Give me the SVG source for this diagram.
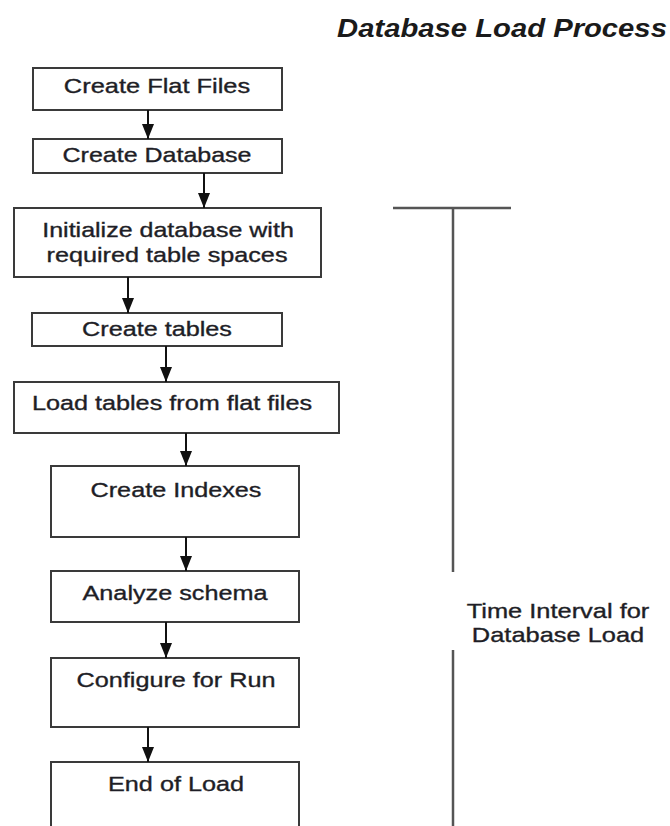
<svg xmlns="http://www.w3.org/2000/svg" width="670" height="826" viewBox="0 0 670 826">
  <style>
    .box { fill: #ffffff; stroke: #3a3a3a; stroke-width: 2; }
    .lbl { font-family: "Liberation Sans", Arial, sans-serif; font-size: 20.5px; fill: #1e1e26; stroke: #1e1e26; stroke-width: 0.35; text-anchor: middle; }
    .title { font-family: "Liberation Sans", Arial, sans-serif; font-size: 25px; font-weight: bold; font-style: italic; fill: #1a1a1a; text-anchor: middle; }
    .flow { stroke: #111111; stroke-width: 2; fill: none; marker-end: url(#arrow); }
    .span { stroke: #555555; stroke-width: 2.5; fill: none; }
  </style>
  <defs>
    <marker id="arrow" markerWidth="15" markerHeight="12" refX="15" refY="6" orient="auto" markerUnits="userSpaceOnUse" viewBox="0 0 15 12">
      <path d="M0,0 L15,6 L0,12 Z" fill="#111111"/>
    </marker>
  </defs>

  <rect width="670" height="826" fill="#ffffff"/>

  <!-- wide lettering: glyphs stretched horizontally -->
  <text class="title" transform="translate(502 37) scale(1.17 1)">Database Load Process</text>

  <!-- process steps -->
  <g id="create-flat-files">
    <rect class="box" x="33" y="68" width="249" height="42"/>
    <text class="lbl" transform="translate(157 93) scale(1.24 1)">Create Flat Files</text>
  </g>
  <g id="create-database">
    <rect class="box" x="33" y="139" width="249" height="34"/>
    <text class="lbl" transform="translate(157 162) scale(1.22 1)">Create Database</text>
  </g>
  <g id="initialize-database">
    <rect class="box" x="14" y="208" width="307" height="69"/>
    <text class="lbl" transform="translate(168 237) scale(1.22 1)">Initialize database with</text>
    <text class="lbl" transform="translate(167 262) scale(1.23 1)">required table spaces</text>
  </g>
  <g id="create-tables">
    <rect class="box" x="32" y="313" width="250" height="33"/>
    <text class="lbl" transform="translate(157 336) scale(1.23 1)">Create tables</text>
  </g>
  <g id="load-tables">
    <rect class="box" x="14" y="382" width="325" height="51"/>
    <text class="lbl" transform="translate(172 410) scale(1.23 1)">Load tables from flat files</text>
  </g>
  <g id="create-indexes">
    <rect class="box" x="51" y="466" width="248" height="71"/>
    <text class="lbl" transform="translate(176 497) scale(1.23 1)">Create Indexes</text>
  </g>
  <g id="analyze-schema">
    <rect class="box" x="51" y="571" width="248" height="51"/>
    <text class="lbl" transform="translate(175 600) scale(1.23 1)">Analyze schema</text>
  </g>
  <g id="configure-for-run">
    <rect class="box" x="51" y="658" width="248" height="69"/>
    <text class="lbl" transform="translate(176 687) scale(1.23 1)">Configure for Run</text>
  </g>
  <g id="end-of-load">
    <rect class="box" x="51" y="762" width="248" height="80"/>
    <text class="lbl" transform="translate(176 791) scale(1.23 1)">End of Load</text>
  </g>

  <!-- arrows between steps -->
  <g id="connectors">
    <line class="flow" x1="148" y1="110" x2="148" y2="139"/>
    <line class="flow" x1="204" y1="173" x2="204" y2="208"/>
    <line class="flow" x1="128" y1="277" x2="128" y2="313"/>
    <line class="flow" x1="166" y1="346" x2="166" y2="382"/>
    <line class="flow" x1="186" y1="433" x2="186" y2="466"/>
    <line class="flow" x1="186" y1="537" x2="186" y2="571"/>
    <line class="flow" x1="166" y1="622" x2="166" y2="658"/>
    <line class="flow" x1="148" y1="727" x2="148" y2="762"/>
  </g>

  <!-- load interval bracket -->
  <g id="load-interval">
    <line class="span" x1="393" y1="208" x2="511" y2="208"/>
    <line class="span" x1="453" y1="208" x2="453" y2="572"/>
    <line class="span" x1="453" y1="650" x2="453" y2="826"/>
    <text class="lbl" transform="translate(558 618) scale(1.24 1)">Time Interval for</text>
    <text class="lbl" transform="translate(558 642) scale(1.24 1)">Database Load</text>
  </g>
</svg>
